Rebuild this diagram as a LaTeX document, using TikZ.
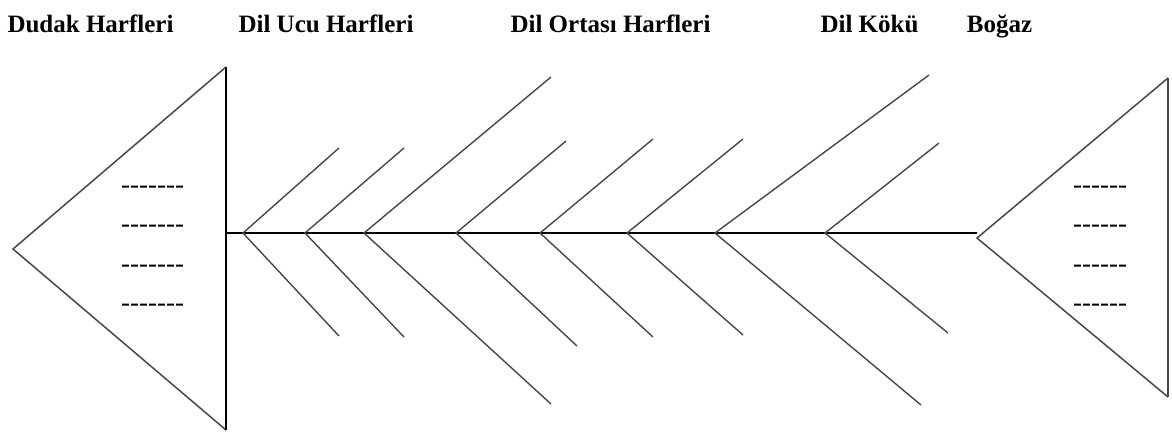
\documentclass[tikz,border=0pt]{standalone}
\usepackage{fontspec}
\setmainfont{Liberation Serif}
\newcommand\hyph{-\kern0pt}
\newcommand\dashseven{\hyph\hyph\hyph\hyph\hyph\hyph\hyph}
\newcommand\dashsix{\hyph\hyph\hyph\hyph\hyph\hyph}
\begin{document}
\begin{tikzpicture}[x=1pt,y=-1pt,
  title/.style={anchor=base,font=\fontsize{25}{29}\selectfont\bfseries,inner sep=0pt},
  dashtext/.style={anchor=base west,font=\fontsize{27}{30}\selectfont,inner sep=0pt},
  bone/.style={line width=1.4pt,draw=black!72},
  spine/.style={line width=1.5pt,draw=black},
  head/.style={line width=1.5pt,draw=black!72}]
\useasboundingbox (0,0) rectangle (1172,432);
% titles
\node[title] (t1) at (90.5,32) {Dudak Harfleri};
\node[title] (t2) at (326,32) {Dil Ucu Harfleri};
\node[title] (t3) at (610.5,32) {Dil Ortası Harfleri};
\node[title] (t4) at (869.5,32) {Dil Kökü};
\node[title] (t5) at (999.5,32) {Boğaz};
% head
\coordinate (hA) at (13,249);
\coordinate (hT) at (226,67);
\coordinate (hB) at (226,430);
\coordinate (hS) at (226,233);
\draw[head] (hT) -- (hA) -- (hB);
\draw[spine] (hT) -- (hB);
% tail
\coordinate (tA) at (977,238);
\coordinate (tT) at (1168,78);
\coordinate (tB) at (1168,397);
\draw[head] (tT) -- (tA) -- (tB);
\draw[head,line width=1.7pt] (tT) -- (tB);
% spine
\coordinate (sE) at (977,233);
\draw[spine] (hS) -- (sE);
% bones
\foreach \bx/\ux/\uy/\lx/\ly [count=\i] in {
  243/339/148/339/336,
  305/404/148/404/337,
  364/551/77/551/404,
  456/566/141/577/346,
  540/653/139/653/337,
  627/743/139/743/335,
  715/929/75/921/405,
  825/939/143/948/333}{
  \coordinate (b\i) at (\bx,233);
  \coordinate (u\i) at (\ux,\uy);
  \coordinate (l\i) at (\lx,\ly);
  \draw[bone] (u\i) -- (b\i) -- (l\i);
}
% dashes
\foreach \y [count=\i] in {188,227,267,306}{
  \node[dashtext] (dl\i) at (121,\y+5.7) {\dashseven};
  \node[dashtext] (dr\i) at (1073,\y+5.7) {\dashsix};
}
\end{tikzpicture}
\end{document}
